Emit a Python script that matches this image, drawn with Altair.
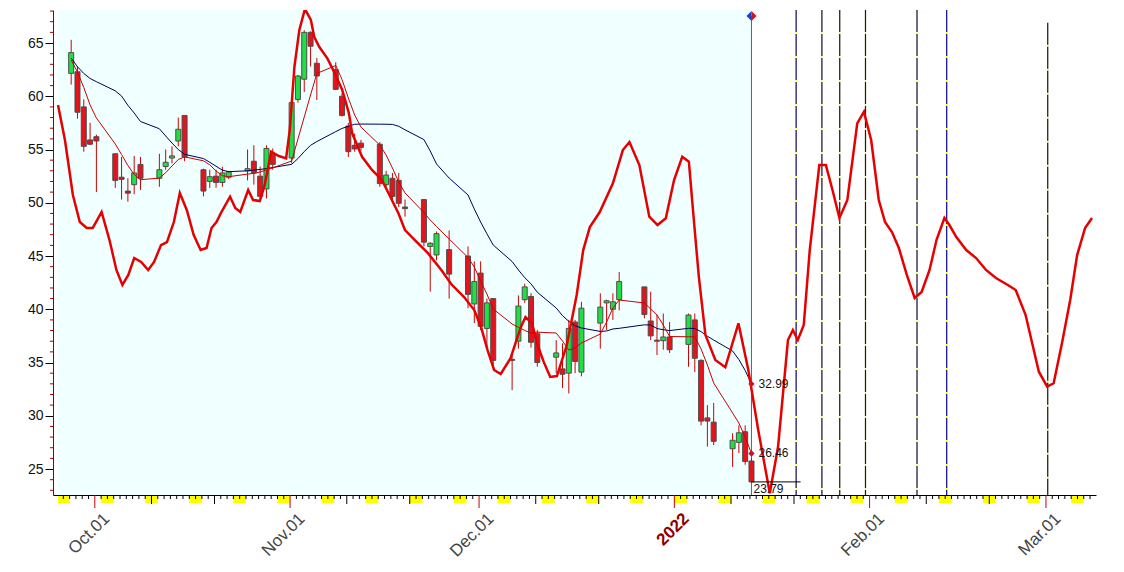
import altair as alt
import pandas as pd

# ---------------- data ----------------
candle_dates = [
    "2021-09-27", "2021-09-28", "2021-09-29", "2021-09-30", "2021-10-01",
    "2021-10-04", "2021-10-05", "2021-10-06", "2021-10-07", "2021-10-08",
    "2021-10-11", "2021-10-12", "2021-10-13", "2021-10-14", "2021-10-15",
    "2021-10-18", "2021-10-19", "2021-10-20", "2021-10-21", "2021-10-22",
    "2021-10-25", "2021-10-26", "2021-10-27", "2021-10-28", "2021-10-29",
    "2021-11-01", "2021-11-02", "2021-11-03", "2021-11-04", "2021-11-05",
    "2021-11-08", "2021-11-09", "2021-11-10", "2021-11-11", "2021-11-12",
    "2021-11-15", "2021-11-16", "2021-11-17", "2021-11-18", "2021-11-19",
    "2021-11-22", "2021-11-23", "2021-11-24", "2021-11-26",
    "2021-11-29", "2021-11-30", "2021-12-01", "2021-12-02", "2021-12-03",
    "2021-12-06", "2021-12-07", "2021-12-08", "2021-12-09", "2021-12-10",
    "2021-12-13", "2021-12-14", "2021-12-15", "2021-12-16", "2021-12-17",
    "2021-12-20", "2021-12-21", "2021-12-22", "2021-12-23",
    "2021-12-27", "2021-12-28", "2021-12-29", "2021-12-30", "2021-12-31",
    "2022-01-03", "2022-01-04", "2022-01-05", "2022-01-06", "2022-01-07",
    "2022-01-10", "2022-01-11", "2022-01-12", "2022-01-13",
]
open_px = [
    62.15, 62.3, 59.0, 55.9, 56.2,
    54.6, 52.4, 51.1, 51.7, 53.6,
    52.3, 53.4, 54.2, 55.8, 58.2,
    53.1, 52.0, 52.5, 51.9, 52.4,
    53.0, 53.9, 52.5, 51.3, 54.6,
    54.2, 59.7, 61.6, 66.0, 63.1,
    62.5, 60.0, 57.2, 55.4, 55.6,
    55.5, 51.7, 52.3, 52.1, 49.6,
    50.3, 45.9, 45.1, 45.6,
    45.0, 40.5, 43.4, 38.2, 41.0,
    35.3, 37.0, 40.9, 41.2, 37.7,
    35.5, 34.4, 34.0, 38.8, 34.1,
    38.7, 40.6, 40.0, 40.9,
    42.1, 38.9, 37.1, 37.05, 37.4,
    36.7, 39.0, 35.2, 29.8, 29.4,
    26.9, 27.5, 28.5, 25.75,
]
high_px = [
    65.3, 62.8, 59.7, 57.5, 56.4,
    54.6, 54.3, 52.3, 54.4, 54.3,
    54.6, 55.0, 55.3, 58.0, 58.2,
    53.2, 53.1, 53.1, 53.4, 53.0,
    55.0, 55.4, 53.4, 55.4, 55.1,
    59.65, 62.0, 66.2, 66.1, 63.6,
    63.2, 60.3, 57.5, 56.5, 55.9,
    55.7, 53.0, 52.8, 52.8, 50.3,
    50.3, 46.3, 47.3, 47.4,
    45.9, 44.5, 44.5, 41.0, 41.0,
    35.9, 41.3, 42.4, 41.5, 38.05,
    37.1, 36.8, 39.0, 39.0, 40.7,
    41.5, 40.9, 41.5, 43.5,
    42.1, 41.65, 39.5, 39.6, 38.8,
    39.6, 39.6, 35.3, 31.0, 31.2,
    28.35, 29.1, 29.1, 26.0,
]
low_px = [
    61.1, 57.9, 54.8, 55.4, 51.0,
    51.4, 50.3, 50.1, 50.8, 51.2,
    51.5, 53.1, 53.7, 55.3, 53.9,
    50.6, 51.4, 51.4, 51.5, 52.2,
    52.1, 51.7, 50.3, 50.4, 53.1,
    53.7, 59.4, 60.4, 62.8, 59.65,
    60.6, 58.1, 54.3, 54.8, 54.9,
    51.5, 51.5, 50.3, 49.6, 48.7,
    45.9, 41.65, 44.6, 41.0,
    40.1, 38.7, 38.05, 36.2, 34.6,
    32.4, 36.3, 40.6, 36.4, 34.6,
    34.0, 32.6, 32.1, 34.0, 33.7,
    36.3, 38.05, 39.0, 39.9,
    39.15, 37.1, 35.7, 36.2, 35.9,
    34.6, 34.1, 29.1, 27.1, 27.25,
    25.2, 26.5, 25.4, 23.7,
]
close_px = [
    64.1, 58.5, 55.3, 55.5, 55.8,
    52.1, 52.2, 50.9, 52.8, 52.3,
    53.1, 53.8, 54.4, 56.9, 54.3,
    51.1, 52.45, 51.9, 52.8, 52.9,
    53.2, 52.8, 50.6, 55.1, 53.6,
    59.4, 61.9, 66.0, 64.7, 61.9,
    60.65, 58.2, 54.8, 55.05, 55.2,
    51.8, 52.6, 50.6, 49.95, 49.45,
    46.3, 46.2, 47.1, 43.3,
    41.4, 42.6, 38.4, 40.6, 35.2,
    35.2, 40.3, 42.1, 36.9, 35.0,
    35.9, 33.9, 38.2, 35.1, 40.1,
    40.2, 40.8, 40.7, 42.6,
    39.5, 37.5, 37.0, 37.4, 36.2,
    39.46, 35.4, 29.5, 29.5, 27.6,
    27.7, 28.4, 25.7, 23.79,
]
ma_fast = [
    63.4, 62.28, 60.82, 59.18, 57.96,
    55.52, 54.53, 53.5, 52.65, 52.16,
    52.32, 52.82, 53.45, 54.06, 54.31,
    53.94, 53.56, 52.98, 52.54, 52.45,
    52.69, 52.76, 52.89, 53.08, 53.28,
    53.92, 55.99, 58.05, 60.12, 62.14,
    62.89, 61.57, 59.84, 58.24, 57.11,
    55.42, 54.48, 53.26, 51.95, 50.92,
    49.08, 48.38, 47.77, 46.6,
    44.86, 43.97, 42.65, 41.43, 40.02,
    38.62, 38.31, 38.02, 37.75, 37.85,
    37.77, 37.02, 36.17, 36.36, 36.83,
    37.68, 38.8, 40.12, 40.87,
    40.59, 40.02, 39.46, 38.52, 37.44,
    37.42, 37.42, 36.27, 34.77, 33.08,
    30.26, 29.32, 28.0, 26.46,
]
ma_slow = [
    63.59, 62.77, 62.14, 61.67, 61.37,
    60.51, 60.02, 59.15, 58.43, 57.63,
    56.95, 56.27, 55.61, 55.0, 54.55,
    54.15, 53.8, 53.43, 53.06, 52.92,
    53.0, 53.07, 53.13, 53.21, 53.31,
    53.61, 54.15, 54.81, 55.39, 55.75,
    56.68, 56.98, 57.18, 57.37, 57.39,
    57.38, 57.37, 57.36, 57.18, 56.85,
    55.93, 54.86, 53.64, 52.32,
    50.73, 49.41, 48.19, 47.09, 46.03,
    44.48, 43.69, 42.97, 42.39, 41.6,
    40.12, 39.4, 38.87, 38.45, 38.24,
    37.92, 37.96, 38.15, 38.21,
    38.54, 38.52, 38.19, 38.08, 38.0,
    38.21, 38.19, 37.9, 37.47, 37.11,
    36.08, 35.28, 34.25, 32.99,
]

# cycle forecast line: days after 2021-09-25 00:00, and value
forecast_day = [
    0.157, 1.26, 2.52, 3.62, 4.72, 5.66, 7.08, 8.33, 9.43, 10.38,
    11.32, 12.26, 13.36, 14.47, 15.41, 16.51, 17.45, 18.55, 19.5, 20.6,
    21.7, 22.8, 23.74, 24.53, 25.31, 26.1, 27.47, 28.3, 29.09, 30.35,
    31.13, 32.19, 32.97, 34.0, 35.22, 36.37, 36.95, 37.69, 38.47, 39.36,
    40.3, 40.83, 41.62, 42.92, 43.98, 45.28, 46.34, 46.86, 48.43, 50.0,
    51.57, 52.63, 54.2, 55.24, 56.81, 58.92, 61.01, 62.58, 64.62, 66.24,
    67.3, 68.35, 69.39, 70.44, 72.01, 73.58, 74.37, 75.42, 76.21, 77.25,
    78.3, 79.36, 80.93, 82.5, 83.54, 84.59, 86.16, 88.25, 89.83, 90.88,
    92.45, 94.03, 95.33, 96.65, 97.96, 99.26, 100.31, 101.1, 101.89, 102.94,
    104.51, 106.09, 108.18, 109.75, 111.32, 113.16, 114.47, 116.04, 116.82, 117.61,
    118.55, 119.5, 121.02, 122.06, 123.11, 124.21, 125.47, 127.04, 128.1, 129.25,
    130.46, 131.45, 132.55, 133.65, 134.91, 136.16, 137.26, 138.52, 139.62, 140.88,
    141.67, 142.77, 144.34, 145.91, 147.48, 149.06, 150.94, 152.2, 153.77, 155.87,
    157.19, 158.22, 159.54, 160.85, 161.95, 163.21, 164.31,
]
forecast_val = [
    59.18, 55.89, 50.73, 48.19, 47.63, 47.63, 49.13, 46.5, 43.69, 42.28,
    43.22, 44.81, 44.44, 43.69, 44.44, 46.03, 46.31, 48.19, 50.92, 49.32,
    46.97, 45.56, 45.75, 47.63, 48.19, 49.13, 50.57, 49.51, 49.13, 51.2,
    50.26, 50.16, 51.67, 54.79, 54.39, 54.17, 56.83, 62.77, 66.22, 68.2,
    67.16, 65.59, 64.65, 63.56, 62.31, 60.59, 58.4, 56.52, 54.32, 53.08,
    52.14, 50.89, 49.01, 47.44, 46.5, 45.25, 43.69, 42.37, 41.15, 39.93,
    38.36, 36.17, 34.3, 33.92, 35.42, 38.24, 39.27, 38.68, 36.8, 35.08,
    33.64, 33.73, 36.64, 41.34, 45.56, 47.72, 49.13, 51.83, 54.95, 55.7,
    53.54, 48.69, 47.91, 48.54, 52.14, 54.32, 53.85, 48.38, 43.06, 37.58,
    35.23, 34.55, 38.68, 34.3, 28.66, 22.72, 27.09, 37.11, 38.05, 37.11,
    38.52, 45.56, 53.54, 53.54, 51.2, 48.57, 50.26, 57.46, 58.55, 55.89,
    50.26, 48.19, 47.25, 45.75, 43.22, 41.06, 41.62, 43.69, 46.5, 48.57,
    47.91, 46.78, 45.56, 44.81, 43.69, 42.93, 42.28, 41.81, 39.46, 34.14,
    32.73, 33.05, 36.8, 40.87, 45.09, 47.63, 48.57,
]

# turning-point markers (days after 2021-09-25 00:00) and their top value
cycle_days = [117.34, 121.43, 124.26, 128.35, 136.53, 141.24, 157.28]
cycle_top = [68.1, 68.1, 68.1, 68.1, 68.1, 68.1, 66.9]

y_ticks = [25, 30, 35, 40, 45, 50, 55, 60, 65]
last_slow = 32.99
last_fast = 26.46
last_close = 23.79
marker_top = 67.54

# ---------------- helpers ----------------
BASE = pd.Timestamp("2021-09-25 00:00:00")
X_START = BASE + pd.Timedelta(days=0.157)
X_END = BASE + pd.Timedelta(days=164.15)
Y_MIN, Y_MAX = 22.56, 68.1


def iso(ts):
    return pd.Timestamp(ts).strftime("%Y-%m-%dT%H:%M:%S")


def dt(ts):
    ts = pd.Timestamp(ts)
    return alt.DateTime(year=ts.year, month=ts.month, date=ts.day,
                        hours=ts.hour, minutes=ts.minute)


xscale = alt.Scale(type="time", domain=[dt(X_START), dt(X_END)], nice=False)
yscale = alt.Scale(domain=[Y_MIN, Y_MAX], zero=False, nice=False)

month_vals = [alt.DateTime(year=2021, month=10, date=1), alt.DateTime(year=2021, month=11, date=1),
              alt.DateTime(year=2021, month=12, date=1), alt.DateTime(year=2022, month=1, date=1),
              alt.DateTime(year=2022, month=2, date=1), alt.DateTime(year=2022, month=3, date=1)]

xaxis = alt.Axis(
    values=month_vals, ticks=False, grid=False, title=None,
    domainColor="#000000", domainWidth=1,
    labelAngle=-45, labelAlign="right", labelBaseline="top",
    labelOffset=6, labelPadding=15, labelFont="Liberation Sans", labelFontSize=17,
    labelExpr="month(datum.value)==0 ? timeFormat(datum.value,'%Y') : timeFormat(datum.value,'%b.%d')",
    labelColor={"condition": {"test": "month(datum.value)==0", "value": "#8B0000"}, "value": "#454545"},
    labelFontWeight={"condition": {"test": "month(datum.value)==0", "value": "bold"}, "value": "normal"},
    labelOverlap=False, labelFlush=False, labelBound=False,
)
yaxis = alt.Axis(
    values=y_ticks, grid=False, title=None, tickSize=8, tickColor="#000000",
    domainColor="#8B0000", labelFont="Liberation Sans", labelFontSize=14,
    labelColor="#111111", labelPadding=2,
)


def X(field):
    return alt.X(f"{field}:T", scale=xscale, axis=xaxis)


def Y(field):
    return alt.Y(f"{field}:Q", scale=yscale, axis=yaxis)


# ---------------- frames ----------------
ct = pd.to_datetime(candle_dates) + pd.Timedelta(hours=6)
cd = pd.DataFrame({
    "t": [iso(t) for t in ct], "o": open_px, "h": high_px, "l": low_px, "c": close_px,
    "fast": ma_fast, "slow": ma_slow,
})
cd["fill"] = ["#1FE043" if c > o else "#E3141C" for o, c in zip(open_px, close_px)]
cd["lo"] = [min(o, c) for o, c in zip(open_px, close_px)]
cd["hi"] = [max(o, c) for o, c in zip(open_px, close_px)]
last_t = iso(ct[-1])

fc = pd.DataFrame({
    "t": [iso(BASE + pd.Timedelta(days=d)) for d in forecast_day],
    "v": forecast_val,
})

cy = pd.DataFrame({
    "t": [iso(BASE + pd.Timedelta(days=d)) for d in cycle_days],
    "top": cycle_top, "bot": [Y_MIN] * len(cycle_days),
})

bg = pd.DataFrame({"s": [iso(X_START)], "e": [last_t]})

sats = pd.date_range("2021-09-25", "2022-03-05", freq="W-SAT")
wk = pd.DataFrame({
    "s": [iso(max(s, X_START)) for s in sats],
    "e": [iso(min(s + pd.Timedelta(days=2), X_END)) for s in sats],
})

days = pd.date_range("2021-09-26", "2022-03-08", freq="D")
d_short = pd.DataFrame({"t": [iso(d) for d in days if d.day not in (1, 10, 20)]})
d_mid = pd.DataFrame({"t": [iso(d) for d in days if d.day in (10, 20)]})
d_month = pd.DataFrame({"t": [iso(d) for d in days if d.day == 1]})

minor = pd.DataFrame({"v": [v for v in range(23, 69) if v % 5 != 0]})

ends = pd.DataFrame({"t": [last_t, last_t], "v": [last_slow, last_fast],
                     "txt": [f"{last_slow:.2f}", f"{last_fast:.2f}"]})
close_df = pd.DataFrame({"t": [last_t], "t2": [iso(ct[-1] + pd.Timedelta(days=7.8))],
                         "v": [last_close], "txt": [f"{last_close:.2f}"]})
vline = pd.DataFrame({"t": [last_t], "top": [marker_top], "bot": [Y_MIN]})

H = 485

# ---------------- layers ----------------
layers = []
layers.append(alt.Chart(bg).mark_rect(color="#F0FFFF").encode(
    x=X("s"), x2="e", y=alt.value(0), y2=alt.value(H)))
layers.append(alt.Chart(wk).mark_rect(color="#FFFF00").encode(
    x=X("s"), x2="e", y=alt.value(H + 1), y2=alt.value(H + 8)))
layers.append(alt.Chart(d_short).mark_rule(color="#000000", strokeWidth=1).encode(
    x=X("t"), y=alt.value(H), y2=alt.value(H + 4)))
layers.append(alt.Chart(d_mid).mark_rule(color="#000000", strokeWidth=1).encode(
    x=X("t"), y=alt.value(H), y2=alt.value(H + 9)))
layers.append(alt.Chart(d_month).mark_rule(color="#CC0000", strokeWidth=1).encode(
    x=X("t"), y=alt.value(H), y2=alt.value(H + 13)))
layers.append(alt.Chart(minor).mark_rule(color="#A00000", strokeWidth=1).encode(
    y=Y("v"), x=alt.value(-3), x2=alt.value(0)))

# cycle turning lines: yellow under navy dashes
layers.append(alt.Chart(cy).mark_rule(color="#FFFF00", strokeWidth=1.2).encode(
    x=X("t"), y=Y("top"), y2="bot"))
layers.append(alt.Chart(cy).mark_rule(color="#0A0AA0", strokeWidth=1.2, strokeDash=[22, 2]).encode(
    x=X("t"), y=Y("top"), y2="bot"))

# today line
layers.append(alt.Chart(vline).mark_rule(color="#1F7F90", strokeWidth=1).encode(
    x=X("t"), y=Y("top"), y2="bot"))

# candles
layers.append(alt.Chart(cd).mark_rule(color="#D00000", strokeWidth=1).encode(
    x=X("t"), y=Y("l"), y2="h"))
layers.append(alt.Chart(cd).mark_bar(size=5, stroke="#4D4D4D", strokeWidth=1).encode(
    x=X("t"), y=Y("lo"), y2="hi", color=alt.Color("fill:N", scale=None)))

# moving averages
layers.append(alt.Chart(cd).mark_line(color="#000058", strokeWidth=1).encode(
    x=X("t"), y=Y("slow")))
layers.append(alt.Chart(cd).mark_line(color="#CC0000", strokeWidth=1).encode(
    x=X("t"), y=Y("fast")))

# forecast
layers.append(alt.Chart(fc).mark_line(color="#E60000", strokeWidth=2.5, clip=True).encode(
    x=X("t"), y=Y("v")))

# last close line & label
layers.append(alt.Chart(close_df).mark_rule(color="#000000", strokeWidth=1).encode(
    x=X("t"), x2="t2", y=Y("v")))
layers.append(alt.Chart(close_df).mark_text(align="left", baseline="middle", dx=2, dy=7,
                                             font="Liberation Sans", fontSize=12, color="#111111").encode(
    x=X("t"), y=Y("v"), text="txt:N"))

# end markers & labels
layers.append(alt.Chart(ends).mark_point(shape="diamond", filled=True, size=40, color="#D0102A", opacity=1).encode(
    x=X("t"), y=Y("v")))
layers.append(alt.Chart(ends).mark_text(align="left", baseline="middle", dx=7,
                                        font="Liberation Sans", fontSize=12, color="#111111").encode(
    x=X("t"), y=Y("v"), text="txt:N"))

# top marker: blue / red diamond halves
layers.append(alt.Chart(vline).mark_point(shape="M0,-1L-1,0L0,1Z", filled=True, size=100,
                                          color="#1C3FC8", opacity=1).encode(x=X("t"), y=Y("top")))
layers.append(alt.Chart(vline).mark_point(shape="M0,-1L1,0L0,1Z", filled=True, size=100,
                                          color="#D81010", opacity=1).encode(x=X("t"), y=Y("top")))

chart = alt.layer(*layers).properties(
    width=1043, height=H,
    autosize=alt.AutoSizeParams(type="none"),
    padding={"left": 45, "top": 2, "right": 20, "bottom": 66},
    background="#FFFFFF",
).configure_view(strokeWidth=0)

chart.save("out.html", embed_options={"renderer": "svg", "actions": False})
